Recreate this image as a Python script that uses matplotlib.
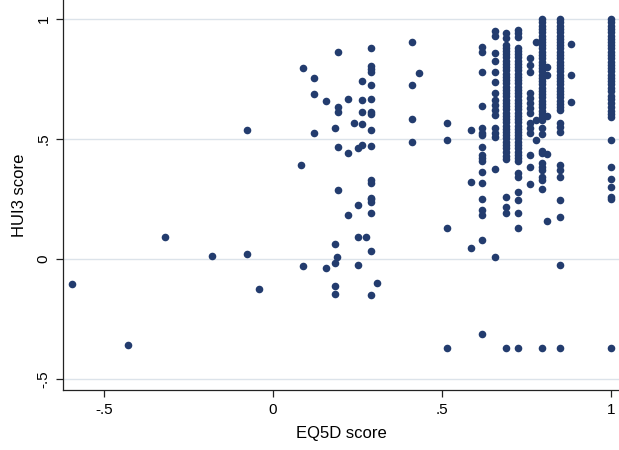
import numpy as np
import matplotlib
matplotlib.use("Agg")
import matplotlib.pyplot as plt

plt.rcParams['font.family'] = ['Liberation Sans', 'DejaVu Sans']

# EQ5D values (columns) and the HUI3 scores seen at each of them
eq5d_values = [-0.594, -0.429, -0.319, -0.181, -0.077, -0.040, 0.082, 0.088, 0.123,
               0.157, 0.185, 0.189, 0.192, 0.221, 0.241, 0.253, 0.263, 0.274, 0.291,
               0.308, 0.413, 0.433, 0.516, 0.587, 0.620, 0.656, 0.691, 0.725, 0.760,
               0.777, 0.796, 0.812, 0.848, 0.883, 1.000]

hui3_values = [
    [-0.104],
    [-0.357],
    [0.090],
    [0.014],
    [0.539, 0.021],
    [-0.125],
    [0.393],
    [0.794, -0.028],
    [0.754, 0.686, 0.524],
    [0.657, -0.037],
    [0.544, 0.064, -0.017, -0.112, -0.146],
    [0.008],
    [0.864, 0.635, 0.612, 0.467, 0.288],
    [0.665, 0.442, 0.183],
    [0.565],
    [0.461, 0.226, 0.092, -0.025],
    [0.743, 0.664, 0.612, 0.562, 0.474],
    [0.092],
    [0.881, 0.804, 0.790, 0.778, 0.726, 0.667, 0.612, 0.605, 0.537, 0.472, 0.329,
     0.318, 0.253, 0.249, 0.238, 0.190, 0.032, -0.151],
    [-0.100],
    [0.906, 0.726, 0.582, 0.489],
    [0.776],
    [0.568, 0.496, 0.130, -0.371],
    [0.537, 0.322, 0.044],
    [0.885, 0.864, 0.779, 0.636, 0.544, 0.524, 0.517, 0.465, 0.433, 0.419, 0.408,
     0.361, 0.317, 0.250, 0.204, 0.182, 0.081, -0.314],
    [0.951, 0.929, 0.857, 0.826, 0.779, 0.738, 0.690, 0.663, 0.640, 0.621, 0.599,
     0.544, 0.524, 0.510, 0.375, 0.008],
    [0.942, 0.920, 0.893, 0.880, 0.866, 0.853, 0.840, 0.826, 0.812, 0.799, 0.786,
     0.772, 0.758, 0.745, 0.732, 0.718, 0.705, 0.691, 0.678, 0.664, 0.650, 0.637,
     0.624, 0.610, 0.597, 0.583, 0.570, 0.556, 0.543, 0.530, 0.516, 0.503, 0.489,
     0.476, 0.462, 0.447, 0.430, 0.415, 0.260, 0.218, 0.190, -0.371],
    [0.954, 0.940, 0.926, 0.880, 0.866, 0.853, 0.840, 0.826, 0.812, 0.799, 0.786,
     0.772, 0.758, 0.745, 0.732, 0.718, 0.705, 0.691, 0.678, 0.664, 0.650, 0.637,
     0.624, 0.610, 0.597, 0.583, 0.570, 0.556, 0.543, 0.530, 0.516, 0.503, 0.489,
     0.476, 0.462, 0.447, 0.433, 0.419, 0.408, 0.357, 0.343, 0.280, 0.246, 0.190,
     0.130, -0.371],
    [0.839, 0.808, 0.781, 0.690, 0.669, 0.649, 0.628, 0.607, 0.565, 0.544, 0.524,
     0.433, 0.382, 0.313],
    [0.906, 0.579, 0.496],
    [1.000, 0.986, 0.972, 0.958, 0.945, 0.931, 0.918, 0.904, 0.890, 0.877, 0.863,
     0.850, 0.836, 0.822, 0.809, 0.795, 0.782, 0.768, 0.754, 0.741, 0.727, 0.714,
     0.700, 0.686, 0.673, 0.659, 0.646, 0.632, 0.618, 0.605, 0.591, 0.578, 0.544,
     0.520, 0.450, 0.440, 0.400, 0.385, 0.371, 0.343, 0.329, 0.292, -0.371],
    [0.801, 0.765, 0.596, 0.438, 0.157],
    [1.000, 0.986, 0.972, 0.958, 0.945, 0.931, 0.918, 0.904, 0.890, 0.877, 0.863,
     0.850, 0.836, 0.822, 0.809, 0.795, 0.782, 0.768, 0.754, 0.741, 0.727, 0.714,
     0.700, 0.686, 0.673, 0.659, 0.646, 0.632, 0.621, 0.567, 0.548, 0.530, 0.392,
     0.371, 0.343, 0.246, 0.174, -0.024, -0.371],
    [0.894, 0.767, 0.655],
    [1.000, 0.986, 0.972, 0.958, 0.945, 0.931, 0.918, 0.904, 0.890, 0.877, 0.863,
     0.850, 0.836, 0.822, 0.809, 0.795, 0.782, 0.768, 0.754, 0.741, 0.727, 0.714,
     0.700, 0.680, 0.666, 0.650, 0.632, 0.618, 0.605, 0.593, 0.496, 0.382, 0.332,
     0.299, 0.260, 0.249, -0.371],
]

tick_vals = [-0.5, 0, 0.5, 1]
tick_labels = ["-.5", "0", ".5", "1"]

xs = []
ys = []
for xv, col in zip(eq5d_values, hui3_values):
    xs += [xv] * len(col)
    ys += col

fig = plt.figure(figsize=(6.19, 4.5), dpi=100)
ax = fig.add_axes([63 / 619, 60 / 450, 556 / 619, 390 / 450])

ax.scatter(xs, ys, s=30, color='#233c6e', linewidths=0, zorder=3)

ax.set_xlim(-0.621, 1.024)
ax.set_ylim(-0.546, 1.079)

ax.set_xticks(tick_vals)
ax.set_xticklabels(tick_labels, fontsize=11)
ax.set_yticks(tick_vals)
ax.set_yticklabels(tick_labels, fontsize=11, rotation=90, va='center')

ax.grid(axis='y', color='#dce3ea', linewidth=1.0, zorder=0)
ax.grid(axis='x', visible=False)

for side in ['top', 'right']:
    ax.spines[side].set_visible(False)
for side in ['left', 'bottom']:
    ax.spines[side].set_color('#222222')
    ax.spines[side].set_linewidth(0.9)
ax.tick_params(direction='out', length=5, width=0.9, color='#222222', pad=4)

ax.set_xlabel("EQ5D score", fontsize=12, labelpad=7)
ax.set_ylabel("HUI3 score", fontsize=12, labelpad=7)

fig.savefig("out.png", dpi=100)
